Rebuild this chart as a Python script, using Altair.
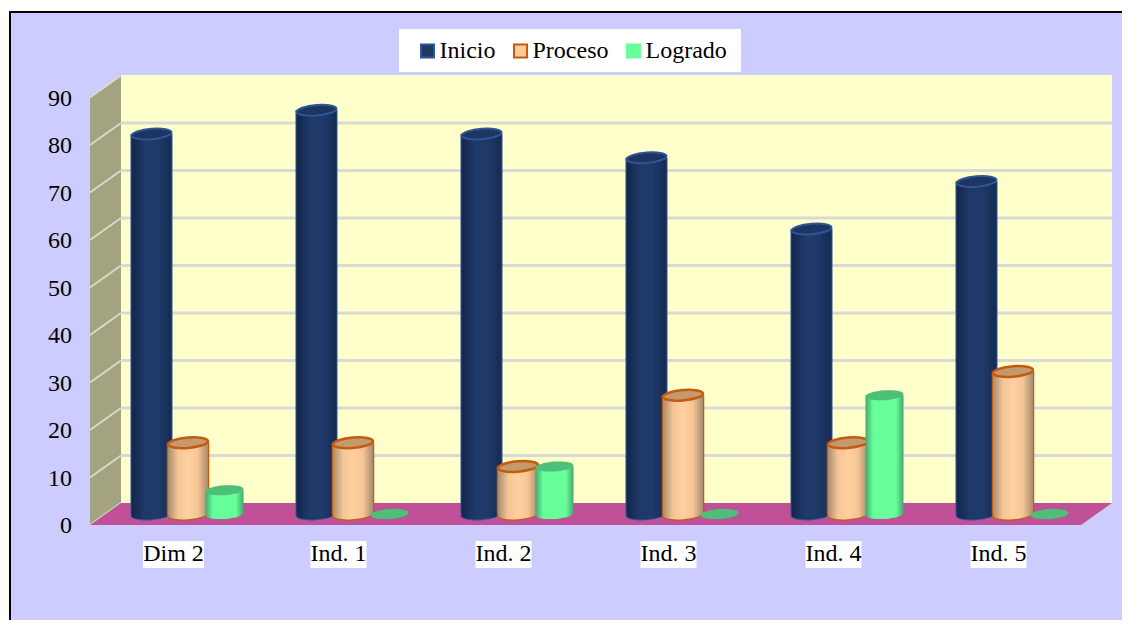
import altair as alt
import pandas as pd

categories = ["Dim 2", "Ind. 1", "Ind. 2", "Ind. 3", "Ind. 4", "Ind. 5"]
inicio = [80, 85, 80, 75, 60, 70]
proceso = [15, 15, 10, 25, 15, 30]
logrado = [5, 0, 10, 0, 25, 0]
value_ticks = [0, 10, 20, 30, 40, 50, 60, 70, 80, 90]
label_half_width = [30.5, 28, 28, 28, 28, 28]

FONT = "Liberation Serif"
W, H = 1114, 612
STEP = 165.0
PX0 = 188.0 - 8          # view x of category 0 centre
UNIT = 4.75
BASE = 514.0 - 8         # view y of value 0
XDOM = [-PX0 / STEP, (W - PX0) / STEP]
YDOM = [(BASE - H) / UNIT, BASE / UNIT]
xs = alt.Scale(domain=XDOM, range=[0, W], nice=False, zero=False, padding=0)
ys = alt.Scale(domain=YDOM, range=[H, 0], nice=False, zero=False, padding=0)


def xu(px):
    return (px - 8 - PX0) / STEP


def yu(py):
    return (BASE + 8 - py) / UNIT


def X(f="x"):
    return alt.X(f"{f}:Q", scale=xs, axis=None)


def Y(f="y"):
    return alt.Y(f"{f}:Q", scale=ys, axis=None)


def ellipse(ry, tilt):
    k = 0.5523
    pts = [(-1, 0), (-1, -k * ry), (-k, -ry), (0, -ry), (k, -ry), (1, -k * ry), (1, 0),
           (1, k * ry), (k, ry), (0, ry), (-k, ry), (-1, k * ry), (-1, 0)]
    p = [(a, b - tilt * a) for a, b in pts]
    s = f"M{p[0][0]:.3f},{p[0][1]:.3f}"
    for i in range(1, len(p), 3):
        s += "C" + " ".join(f"{a:.3f},{b:.3f}" for a, b in p[i:i + 3])
    return s + "Z"


def grad(stops):
    return alt.Gradient(gradient="linear", x1=0, x2=1, y1=0, y2=0,
                        stops=[alt.GradientStop(offset=o, color=c) for o, c in stops])


SERIES = [
    dict(name="Inicio", vals=inicio, dx=-36.5, w=40, stroke="#2f5597", top="#1d3560", sw=2, ry=0.26, tilt=0.08,
         fill=grad([(0, "#13264a"), (0.35, "#1f3a6a"), (0.65, "#1f3a6a"), (1, "#152b52")]), swatch="#1f3864"),
    dict(name="Proceso", vals=proceso, dx=0, w=40, stroke="#c55a11", top="#c49a6c", sw=2.5, ry=0.26, tilt=0.08,
         fill=grad([(0, "#a88c6e"), (0.25, "#f5c596"), (0.5, "#ffd09f"), (0.75, "#f5c596"), (1, "#a88c6e")]),
         swatch="#ffcc99"),
    dict(name="Logrado", vals=logrado, dx=36.5, w=38, stroke="#5fd08a", top="#4bc076", sw=0, ry=0.26, tilt=0.07,
         fill=grad([(0, "#45a86e"), (0.2, "#66ff99"), (0.8, "#66ff99"), (1, "#45a86e")]), swatch="#66ff99"),
]


def rect(x1, x2, y1, y2, **kw):
    d = pd.DataFrame({"x": [xu(x1)], "x2": [xu(x2)], "y": [yu(y1)], "y2": [yu(y2)]})
    return alt.Chart(d).mark_rect(**kw).encode(
        x=X(), x2="x2:Q", y=Y(), y2="y2:Q")


# depth (in value units) of the 3D floor
D = 11 / UNIT
LEFT, BACK_L, BACK_R, FRONT_R = xu(90), xu(121), xu(1112), xu(1081)
TOP = 90

layers = []
# frame
layers.append(rect(10, 1160, 12, 660, fill="#ccccff", stroke="black", strokeWidth=2))
# back wall
layers.append(rect(121, 1112, 75, 503, fill="#ffffcc"))
# side wall
side = pd.DataFrame({"x": [LEFT, BACK_L], "y": [TOP - D, TOP + D], "y2": [-D, D]})
layers.append(alt.Chart(side).mark_area(color="#a3a380", line=False).encode(x=X(), y=Y(), y2="y2:Q"))
# side wall top/bottom edge and grid lines
grid = pd.DataFrame({"v": value_ticks})
grid["x"], grid["x2"] = LEFT, BACK_L
grid["y"], grid["y2"] = grid.v - D, grid.v + D
grid["bx"], grid["bx2"] = BACK_L, BACK_R
layers.append(alt.Chart(grid).mark_rule(color="#d9d9c8", strokeWidth=2).encode(
    x=X(), x2="x2:Q", y=Y(), y2="y2:Q"))
layers.append(alt.Chart(grid[(grid.v > 0) & (grid.v < 90)]).mark_rule(color="#d9d9d6", strokeWidth=3).encode(
    x=X("bx"), x2="bx2:Q", y=Y("y2")))
# floor
floor = pd.DataFrame({"x": [LEFT, BACK_L, FRONT_R, BACK_R], "y": [-D, D, D, D], "y2": [-D, -D, -D, D]})
layers.append(alt.Chart(floor).mark_area(color="#c05199").encode(x=X(), y=Y(), y2="y2:Q"))

# cylinders
for s in SERIES:
    d = pd.DataFrame({"i": range(len(categories)), "v": s["vals"]})
    d["x"] = d.i + s["dx"] / STEP
    d["base"] = 0
    pos = d[d.v > 0]
    shape = ellipse(s["ry"], s["tilt"])
    size = s["w"] ** 2
    if s["sw"]:
        layers.append(alt.Chart(pos).mark_point(shape=shape, size=size, filled=True, fill=s["stroke"],
                                                stroke=s["stroke"], strokeWidth=s["sw"], opacity=1).encode(
            x=X(), y=Y("base")))
        layers.append(alt.Chart(pos).mark_bar(size=s["w"] + s["sw"], color=s["stroke"]).encode(
            x=X(), y=Y("v"), y2="base:Q"))
    layers.append(alt.Chart(pos).mark_point(shape=shape, size=size, filled=True, fill=s["fill"], strokeWidth=0,
                                            opacity=1).encode(x=X(), y=Y("base")))
    layers.append(alt.Chart(pos).mark_bar(size=s["w"], fill=s["fill"]).encode(
        x=X(), y=Y("v"), y2="base:Q"))
    layers.append(alt.Chart(d).mark_point(shape=shape, size=size, filled=True, fill=s["top"],
                                          stroke=s["stroke"], strokeWidth=s["sw"], opacity=1).encode(
        x=X(), y=Y("v")))

# category labels with white boxes
OFF = -14.5 / STEP
lab = pd.DataFrame({"c": categories, "i": range(len(categories)), "hw": label_half_width})
lab["x"] = lab.i + OFF
lab["x1"] = lab.x - lab.hw / STEP
lab["x2"] = lab.x + lab.hw / STEP
lab["y1"] = yu(541)
lab["y2"] = yu(568)
lab["y"] = yu(554)
layers.append(alt.Chart(lab).mark_rect(fill="white").encode(x=X("x1"), x2="x2:Q", y=Y("y1"), y2="y2:Q"))
layers.append(alt.Chart(lab).mark_text(font=FONT, fontSize=24, color="black", baseline="middle").encode(
    x=X(), y=Y(), text="c:N"))

# value labels sit at the front edge of the floor
ax = pd.DataFrame({"v": value_ticks, "t": [str(v) for v in value_ticks], "x": [xu(72)] * len(value_ticks)})
layers.append(alt.Chart(ax).mark_text(font=FONT, fontSize=24, color="black", align="right", baseline="middle",
                                      dy=12).encode(x=X(), y=Y("v"), text="t:N"))

# legend on a white box
layers.append(rect(399, 741, 29, 72, fill="white"))
names = [s["name"] for s in SERIES]
leg = alt.Legend(orient="none", legendX=407.5, legendY=31, direction="horizontal", title=None,
                 padding=0, offset=0,
                 symbolType="square", symbolSize=170, symbolStrokeWidth=2, symbolOpacity=1,
                 labelFont=FONT, labelFontSize=24, labelColor="black", labelOffset=0, columnPadding=13,
                 labelLimit=200)
key = pd.DataFrame({"series": names, "x": [0, 0, 0], "y": [0, 0, 0]})
layers.append(alt.Chart(key).mark_point(size=0, filled=True, shape="square").encode(
    x=X(), y=Y(),
    fill=alt.Fill("series:N", scale=alt.Scale(domain=names, range=[s["swatch"] for s in SERIES]), legend=leg, sort=names),
    stroke=alt.Stroke("series:N", scale=alt.Scale(domain=names, range=["#2f5597", "#c55a11", "#66ff99"]), legend=leg, sort=names),
))

chart = alt.layer(*layers).properties(
    width=W, height=H, padding=0, autosize=alt.AutoSizeParams(type="none"), background="white",
).configure_view(stroke=None)

chart.save("out.html", embed_options={"renderer": "svg", "actions": False})
